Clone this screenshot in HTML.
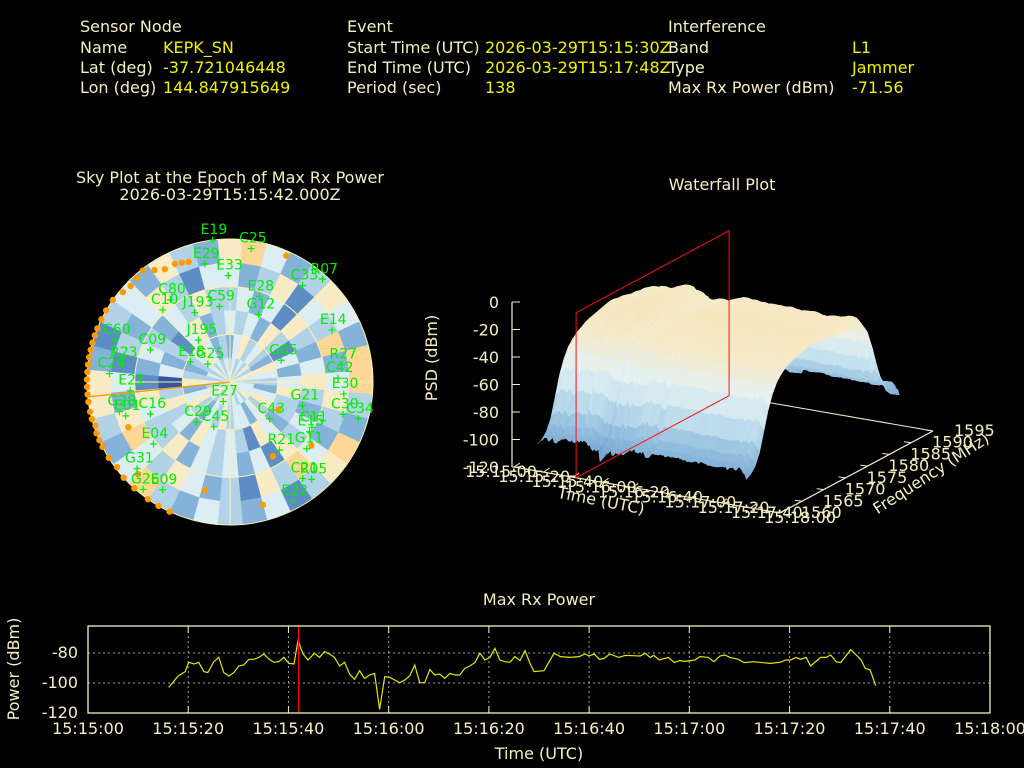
<!DOCTYPE html>
<html><head><meta charset="utf-8">
<style>
html,body{margin:0;padding:0;background:#000;}
svg{display:block;font-family:"DejaVu Sans","Liberation Sans",sans-serif;}
.lab{fill:#f5f0c0;font-size:16px;}
.val{fill:#f2f200;font-size:16px;}
.tk{fill:#f5f0c0;font-size:16px;}
.sat{fill:#00ee00;font-size:14px;}
</style></head>
<body>
<svg id="root" width="1024" height="768" viewBox="0 0 1024 768" xmlns="http://www.w3.org/2000/svg">
<rect width="1024" height="768" fill="#000"/>
<g>
<text class="lab" x="80" y="32">Sensor Node</text>
<text class="lab" x="80" y="53">Name</text>
<text class="val" x="163" y="53">KEPK_SN</text>
<text class="lab" x="80" y="73">Lat (deg)</text>
<text class="val" x="163" y="73">-37.721046448</text>
<text class="lab" x="80" y="93">Lon (deg)</text>
<text class="val" x="163" y="93">144.847915649</text>
<text class="lab" x="347" y="32">Event</text>
<text class="lab" x="347" y="53">Start Time (UTC)</text>
<text class="val" x="485" y="53">2026-03-29T15:15:30Z</text>
<text class="lab" x="347" y="73">End Time (UTC)</text>
<text class="val" x="485" y="73">2026-03-29T15:17:48Z</text>
<text class="lab" x="347" y="93">Period (sec)</text>
<text class="val" x="485" y="93">138</text>
<text class="lab" x="668" y="32">Interference</text>
<text class="lab" x="668" y="53">Band</text>
<text class="val" x="852" y="53">L1</text>
<text class="lab" x="668" y="73">Type</text>
<text class="val" x="852" y="73">Jammer</text>
<text class="lab" x="668" y="93">Max Rx Power (dBm)</text>
<text class="val" x="852" y="93">-71.56</text>
</g>
<text class="lab" x="230" y="183" text-anchor="middle">Sky Plot at the Epoch of Max Rx Power</text>
<text class="lab" x="230" y="200" text-anchor="middle">2026-03-29T15:15:42.000Z</text>
<text class="lab" x="722" y="190" text-anchor="middle">Waterfall Plot</text>
<text class="lab" x="539" y="605" text-anchor="middle">Max Rx Power</text>
<g id="sky"></g>
<g id="wf"></g>
<g id="lp"></g>
</svg>
<script>
// ---------- Max Rx Power data ----------
const powTimes = [16.1,18,19.4,20.1,21.2,22.1,23.1,23.9,25.1,26.1,27.1,28.1,29.1,30.1,31.1,32.1,33.1,34.1,35.1,36.1,37.1,38.1,39.1,40.1,41.1,41.9,42.9,43.9,45.2,46.2,47.2,48.2,49.2,50.2,51.2,52.2,53.2,54.2,55.2,56.2,57.2,58.2,59.2,60.2,61.2,62.2,63.2,64.2,65.2,66.2,67.2,68.2,69.2,70.2,71.2,72.2,73.2,74.2,75.2,76.2,77.2,78.2,79.2,80.2,81.2,82.2,83.2,84.2,85.2,86.2,87.2,88.2,89.0,91.0,93.0,94.3,96.2,98.0,99.2,100.0,101.0,102.1,103.0,104.1,105.9,107.2,110.2,111.2,112.2,112.9,114.0,115.8,117.0,118.0,119.1,121.1,122.1,123.8,124.9,126.1,127.1,128.1,129.8,130.9,132.8,136.1,138.1,139.3,140.2,141.3,142.2,143.3,144.2,146.2,147.3,148.2,149.3,150.2,152.2,153.3,154.2,155.1,156.1,157.2];
const powValues = [-102.9,-95.3,-92.4,-86.2,-87.3,-86.2,-92.4,-93.1,-85.8,-82.9,-93.1,-95.3,-93.1,-88.7,-88,-84.2,-84.2,-82.9,-80.7,-84,-86.2,-85.8,-82.9,-86.9,-87.3,-71.6,-80.7,-84.7,-80.2,-82.9,-79.1,-80.7,-82.9,-88.7,-86.2,-94,-97.6,-91.8,-96.9,-94.7,-93.6,-117.6,-95.8,-96.2,-98,-99.8,-98,-95.3,-88,-99.8,-99.8,-91,-94.7,-94,-96.9,-93.6,-94.7,-94.7,-90.2,-88.7,-86.4,-80.2,-84.7,-82.9,-76.9,-84.7,-85.8,-86.2,-82.4,-85.1,-78.4,-86.9,-92.4,-91.8,-80.2,-82.4,-82.9,-82.4,-80.7,-82,-80.7,-84.2,-83.6,-80.7,-82.9,-81.6,-82,-80.2,-82.9,-81.6,-84.7,-82.9,-86.4,-85.1,-85.6,-84.7,-82.4,-82.9,-85.8,-82,-81.3,-82.9,-84.2,-86.4,-85.8,-86.9,-86.2,-84.7,-84.7,-82.9,-84.2,-82.9,-88.7,-82.9,-82.9,-81.3,-85.8,-86.4,-77.8,-81.3,-84.2,-90.2,-91.3,-101.8];
const xTickLabels = ["15:15:00","15:15:20","15:15:40","15:16:00","15:16:20","15:16:40","15:17:00","15:17:20","15:17:40","15:18:00"];
const xTickSecs = [0,20,40,60,80,100,120,140,160,180];
const yTickVals = [-80,-100,-120];
const markerTime = [42];

// ---------- Waterfall data ----------
const wfFreqs = [1560,1561,1562,1563,1564,1565,1566,1567,1568,1569,1570,1571,1572,1573,1574,1575,1576,1577,1578,1579,1580,1581,1582,1583,1584,1585,1586,1587,1588,1589,1590,1591,1592,1593,1594,1595];
const wfProfile = [-94,-92,-88,-80,-66,-52,-42,-35,-31,-28,-26,-25,-24,-23,-22,-21,-21,-22,-22,-23,-24,-24,-25,-25,-26,-27,-29,-32,-38,-50,-64,-76,-84,-88,-90,-92];
const zTicks = [0,-20,-40,-60,-80,-100,-120];
const wfTimeTicks = ["15:15:00","15:15:20","15:15:40","15:16:00","15:16:20","15:16:40","15:17:00","15:17:20","15:17:40","15:18:00"];
const wfFreqTicks = [1560,1565,1570,1575,1580,1585,1590,1595];

// ---------- Sky plot data ----------
const satNames = ["C25","E29","E33","R07","C33","E14","G12","C59","J193","J195","C10","C09","C60","R23","C24","E21","E18","G25","G05","R27","C42","E30","C34","C30","E27","G21","C43","C11","G11","R21","G31","E04","G28","E01","C16","C29","E22","R05","E09","G26","E19","C80","E28","C21","E15","C45"];
const satAz = [9,348,359,42,37,63,23,352,333,323,317,292,290,280,274,265,297,309,67,81,88,96,106,106,199,108,133,119,131,144,227,231,255,252,248,220,152,140,212,219,353,324,19,143,122,200];
const satEl = [5,14,23,3,14,18,44,42,41,57,28,36,13,21,14,27,62,72,55,19,22,18,6,16,77,42,56,31,26,37,10,28,18,21,36,57,5,10,10,3,0,26,33,14,31,60];
const orangeAz = [205,210,215,222,228,233,238,243,246,249,252,255,258,262,265,268,271,274,277,280,283,286,289,292,296,300,305,310,314,318,322,326,330,335,338,341,24,128,150,165,193,225,246,120];
const orangeEl = [0,0,0,0,0,1,0,0,0,0,1,0,0,0,0,0,0,0,0,0,0,0,0,0,0,0,0,2,3,2,1,5,8,8,9,10,3,25,36,10,20,8,20,55];
const skyRings = ["102431240034013524324302431145324134","243152304213420315342132014253421352","324251342134231524232413321542342313","232413524213342153232142313624352143","421323412342132422313243124134321243","323232312322213232321232213232323232"];
const skyColors = ["#fcd796","#f9ebc6","#dcedf4","#b2d2e7","#84b2d8","#5e8dc6","#34559f"];

const NS = "http://www.w3.org/2000/svg";
function mk(tag, attrs, parent){const e=document.createElementNS(NS,tag);for(const k in attrs)e.setAttribute(k,attrs[k]);parent.appendChild(e);return e;}

// ================= Line chart =================
(function(){
const g=document.getElementById('lp');
const X0=88,X1=990,Y0=626,Y1=713;
const xs=t=>X0+(t/180)*(X1-X0);
const ys=v=>Y1-((v+120)/58)*(Y1-Y0);
xTickSecs.forEach((s,i)=>{
  if(i>0&&i<xTickSecs.length-1){
    const l=mk('line',{x1:xs(s),x2:xs(s),y1:Y0,y2:Y1,stroke:'#a0a0a0','stroke-dasharray':'2,3','stroke-width':1},g);
    
    
    const a=mk('line',{x1:xs(s),x2:xs(s),y1:Y1,y2:Y1-7,stroke:'#f5f0c0','stroke-width':1},g);
    
    
    const b=mk('line',{x1:xs(s),x2:xs(s),y1:Y0,y2:Y0+7,stroke:'#f5f0c0','stroke-width':1},g);
    
    
  }
  const t=mk('text',{x:xs(s),y:734,'text-anchor':'middle',class:'tk'},g);
  t.textContent=xTickLabels[i];
  
  
});
yTickVals.forEach(v=>{
  if(v>-120){
    const l=mk('line',{x1:X0,x2:X1,y1:ys(v),y2:ys(v),stroke:'#a0a0a0','stroke-dasharray':'2,3','stroke-width':1},g);
    
    
  }
  const t=mk('text',{x:78,y:ys(v)+5,'text-anchor':'end',class:'tk'},g);
  t.textContent=String(v);
  
  
});
const pts=powTimes.map((t,i)=>xs(t).toFixed(1)+','+ys(powValues[i]).toFixed(1)).join(' ');
const pl=mk('polyline',{points:pts,fill:'none',stroke:'#e6e600','stroke-width':1.2},g);


const m=mk('line',{x1:xs(markerTime[0]),x2:xs(markerTime[0]),y1:Y0,y2:Y1,stroke:'#ff0000','stroke-width':1.3},g);


const fr=mk('rect',{x:X0,y:Y0,width:X1-X0,height:Y1-Y0,fill:'none',stroke:'#f5f0c0','stroke-width':1.3},g);


const yt=mk('text',{x:0,y:0,'text-anchor':'middle',class:'tk',transform:'translate(19,669) rotate(-90)'},g);
yt.textContent='Power (dBm)';


const xt=mk('text',{x:539,y:759,'text-anchor':'middle',class:'tk'},g);
xt.textContent='Time (UTC)';


})();

// ================= Sky plot =================
(function(){
const g=document.getElementById('sky');
const CX=230,CY=382,R=143;
const pos=(az,el)=>{const r=R*(1-el/90);const a=az*Math.PI/180;return [CX+r*Math.sin(a),CY-r*Math.cos(a)];};
const nAz=36,nR=skyRings.length;
for(let k=0;k<nR;k++){
  const r1=R*(1-k/nR), r0=R*(1-(k+1)/nR);
  const str=skyRings[k];
  for(let i=0;i<nAz;i++){
    const a0=(i*10-5)*Math.PI/180,a1=(i*10+5)*Math.PI/180;
    const p=[[r1,a0],[r1,a1],[r0,a1],[r0,a0]].map(([r,a])=>(CX+r*Math.sin(a)).toFixed(1)+','+(CY-r*Math.cos(a)).toFixed(1));
    const c=skyColors[+str[i%str.length]];
    const pg=mk('polygon',{points:p.join(' '),fill:c,stroke:c,'stroke-width':0.6},g);
    
    
  }
}
[R/3,2*R/3,R].forEach(r=>{
  const c=mk('circle',{cx:CX,cy:CY,r:r,fill:'none',stroke:'#f8f2b0','stroke-width':1},g);
  
  
});
for(let a=0;a<360;a+=45){
  const [x,y]=pos(a,0);
  const l=mk('line',{x1:CX,y1:CY,x2:x,y2:y,stroke:'#f8f2b0','stroke-width':1},g);
  
  
}
const [tx,ty]=pos(264,0);
const tr=mk('line',{x1:tx,y1:ty,x2:CX,y2:CY,stroke:'#ff9900','stroke-width':1.3},g);


orangeAz.forEach((az,i)=>{
  const [x,y]=pos(az,orangeEl[i]);
  const c=mk('circle',{cx:x,cy:y,r:3.2,fill:'#ff9a00'},g);
  
  
});
satNames.forEach((n,i)=>{
  const [x,y]=pos(satAz[i],satEl[i]);
  const p=mk('path',{d:`M${x-3.5},${y}H${x+3.5}M${x},${y-3.5}V${y+3.5}`,stroke:'#00ee00','stroke-width':1.2},g);
  
  
  const t=mk('text',{x:x-12,y:y-6,class:'sat'},g);
  t.textContent=n;
  
  
});
})();

// ================= Waterfall =================
(function(){
const g=document.getElementById('wf');
const O=[514,467],T=[266,46],F=[153,-82],H=165;
const P=(t,f,z)=>{const a=t/180,b=(f-1560)/35;return [O[0]+a*T[0]+b*F[0], O[1]+a*T[1]+b*F[1]-((z+120)/120)*H];};
const col=z=>{
  const stops=[[-120,[74,122,184]],[-95,[130,178,216]],[-70,[196,226,240]],[-50,[230,242,242]],[-30,[246,234,200]],[0,[246,224,172]]];
  for(let i=1;i<stops.length;i++){if(z<=stops[i][0]){const [z0,c0]=stops[i-1],[z1,c1]=stops[i];const u=Math.max(0,(z-z0)/(z1-z0));return 'rgb('+c0.map((v,k)=>Math.round(v+(c1[k]-v)*u)).join(',')+')';}}
  return 'rgb(246,224,172)';
};
const b0=P(0,1595,-120),b1=P(180,1595,-120);
const be=mk('line',{x1:b0[0],y1:b0[1],x2:b1[0],y2:b1[1],stroke:'#f5f0c0','stroke-width':1},g);


const za=P(0,1560,0),zb=P(0,1560,-120);
const zl=mk('line',{x1:za[0]-2,y1:za[1],x2:zb[0]-2,y2:zb[1],stroke:'#f5f0c0','stroke-width':1.2},g);


zTicks.forEach(z=>{
  const p=P(0,1560,z);
  const l=mk('line',{x1:p[0]-2,y1:p[1],x2:p[0]+6,y2:p[1],stroke:'#f5f0c0','stroke-width':1},g);
  
  
  const t=mk('text',{x:p[0]-15,y:p[1]+6,'text-anchor':'end',class:'tk'},g);
  t.textContent=String(z);
  
  
});
const zAt=(i,j)=>Math.max(-120,Math.min(0,wfProfile[j]+0.35*(powValues[i]+85)));
for(let j=wfFreqs.length-2;j>=0;j--){
  for(let i=0;i<powTimes.length-1;i++){
    const z=(zAt(i,j)+zAt(i+1,j)+zAt(i,j+1)+zAt(i+1,j+1))/4;
    const pts=[P(powTimes[i],wfFreqs[j],zAt(i,j)),P(powTimes[i+1],wfFreqs[j],zAt(i+1,j)),P(powTimes[i+1],wfFreqs[j+1],zAt(i+1,j+1)),P(powTimes[i],wfFreqs[j+1],zAt(i,j+1))];
    const c=col(z);
    const pg=mk('polygon',{points:pts.map(p=>p[0].toFixed(1)+','+p[1].toFixed(1)).join(' '),fill:c,stroke:c,'stroke-width':0.5},g);
    
    
  }
}
const t0=P(0,1560,-120),t1=P(180,1560,-120),f1=P(180,1595,-120);
const ta=mk('line',{x1:t0[0],y1:t0[1],x2:t1[0],y2:t1[1],stroke:'#f5f0c0','stroke-width':1.2},g);


const fa=mk('line',{x1:t1[0],y1:t1[1],x2:f1[0],y2:f1[1],stroke:'#f5f0c0','stroke-width':1.2},g);


wfTimeTicks.forEach((lab,i)=>{
  const p=P(i*20,1560,-120);
  const l=mk('line',{x1:p[0],y1:p[1],x2:p[0]+6,y2:p[1]-4,stroke:'#f5f0c0','stroke-width':1},g);
  
  
  const off=-13+33*i/(wfTimeTicks.length-1);
  const t=mk('text',{x:p[0]+off,y:p[1]+10,'text-anchor':'middle',class:'tk'},g);
  t.textContent=lab;
  
  
});
wfFreqTicks.forEach(f=>{
  const p=P(180,f,-120);
  const l=mk('line',{x1:p[0],y1:p[1],x2:p[0]-7,y2:p[1]-1,stroke:'#f5f0c0','stroke-width':1},g);
  
  
  const t=mk('text',{x:p[0]+21,y:p[1]+5,class:'tk'},g);
  t.textContent=String(f);
  
  
});
const r0=P(markerTime[0],1560,-120),r1=P(markerTime[0],1595,-120),r2=P(markerTime[0],1595,0),r3=P(markerTime[0],1560,0);
const rp=mk('polygon',{points:[r0,r1,r2,r3].map(p=>p[0].toFixed(1)+','+p[1].toFixed(1)).join(' '),fill:'none',stroke:'#ff1010','stroke-width':1},g);


const zt=mk('text',{x:0,y:0,'text-anchor':'middle',class:'tk',transform:'translate(437,358) rotate(-90)'},g);
zt.textContent='PSD (dBm)';


const tt=mk('text',{x:0,y:0,'text-anchor':'middle',class:'tk',transform:'translate(600,506) rotate(11)'},g);
tt.textContent='Time (UTC)';


const ft=mk('text',{x:0,y:0,'text-anchor':'middle',class:'tk',transform:'translate(934,478) rotate(-33)'},g);
ft.textContent='Frequency (MHz)';


})();
</script>
</body></html>
